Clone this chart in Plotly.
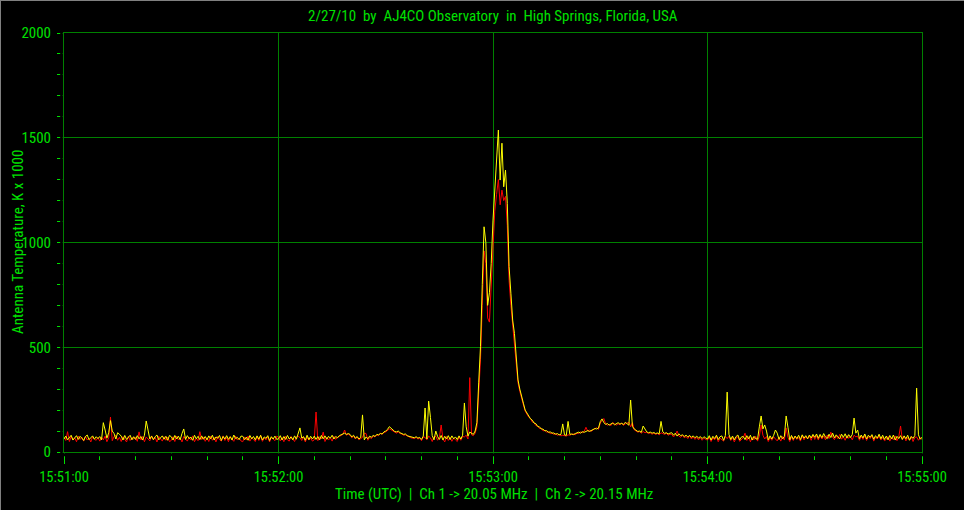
import plotly.graph_objects as go
import pandas as pd

# ---------------- data (0.5 s samples from 15:51:00 to 15:55:00) ----------------
start_time = "2010-02-27 15:51:00"
sample_step = "500ms"

# Ch 1 -> 20.05 MHz (red)
ch1 = [
    72, 55, 97, 50, 74, 58, 68, 49, 76, 60, 70, 52, 75, 57, 66, 48, 73, 61, 56, 69,
    52, 71, 58, 76, 49, 68, 167, 54, 74, 80, 56, 70, 50, 73, 60, 48, 75, 55, 69, 62,
    70, 51, 96, 57, 74, 49, 72, 62, 53, 77, 58, 69, 48, 75, 60, 52, 73, 56, 71, 50,
    55, 73, 50, 76, 58, 68, 48, 74, 62, 52, 71, 57, 77, 49, 66, 54, 97, 59, 72, 51,
    68, 50, 75, 56, 70, 48, 74, 59, 52, 77, 55, 69, 49, 73, 61, 51, 76, 57, 66, 53,
    49, 72, 57, 76, 52, 68, 60, 50, 74, 55, 78, 51, 67, 58, 73, 48, 70, 62, 54, 75,
    71, 53, 69, 49, 75, 58, 52, 74, 60, 50, 72, 76, 69, 55, 73, 48, 70, 57, 66, 52,
    58, 191, 54, 73, 62, 95, 50, 71, 57, 68, 52, 75, 60, 70, 74, 79, 84, 105, 80, 86,
    80, 68, 76, 62, 72, 58, 66, 70, 90, 88, 56, 70, 64, 76, 72, 82, 78, 90, 84, 94,
    96, 102, 110, 106, 100, 94, 90, 96, 88, 86, 80, 82, 76, 72, 68, 66, 64, 70, 62, 66,
    54, 72, 70, 58, 76, 68, 50, 73, 75, 56, 69, 129, 62, 48, 74, 55, 71, 51, 67, 58,
    50, 72, 56, 74, 72, 80, 62, 355, 82, 78, 90, 120, 290, 440, 700, 960, 900, 640, 620, 820,
    1000, 1150, 1230, 1300, 1180, 1250, 1200, 1220, 1080, 820, 700, 600, 540, 440, 330, 290, 250, 225, 195, 180,
    166, 160, 143, 140, 126, 124, 112, 113, 101, 103, 95, 96, 88, 91, 84, 87, 80, 83, 77, 80,
    78, 76, 82, 80, 84, 86, 82, 90, 88, 96, 92, 98, 118, 100, 104, 99, 106, 110, 116, 108,
    138, 150, 160, 135, 128, 132, 126, 140, 134, 128, 135, 130, 139, 127, 134, 138, 142, 120, 140, 106,
    100, 95, 97, 90, 98, 92, 94, 88, 91, 85, 90, 84, 88, 82, 92, 86, 84, 90, 80, 85,
    84, 72, 82, 100, 76, 70, 80, 68, 74, 64, 78, 62, 72, 60, 70, 58, 69, 56, 66, 60,
    57, 72, 50, 68, 58, 75, 49, 66, 60, 52, 74, 64, 75, 55, 70, 48, 67, 73, 51, 62,
    68, 90, 55, 73, 49, 70, 58, 75, 52, 75, 129, 80, 62, 74, 50, 69, 56, 72, 60, 53,
    71, 52, 74, 57, 115, 70, 50, 73, 55, 76, 60, 69, 52, 78, 58, 74, 62, 77, 56, 80,
    60, 78, 57, 80, 62, 76, 58, 81, 64, 95, 70, 59, 77, 63, 84, 61, 73, 56, 79, 65,
    74, 58, 80, 72, 76, 56, 75, 60, 79, 55, 73, 64, 78, 52, 71, 62, 77, 57, 70, 54,
    60, 74, 52, 70, 58, 77, 54, 72, 124, 60, 76, 53, 69, 57, 74, 50, 70, 72, 56, 68,
    60,
]

# Ch 2 -> 20.15 MHz (yellow)
ch2 = [
    62, 76, 58, 72, 80, 57, 70, 78, 60, 75, 66, 55, 74, 81, 59, 70, 77, 61, 73, 64,
    74, 58, 140, 105, 66, 92, 150, 100, 88, 62, 92, 85, 76, 57, 79, 60, 71, 80, 58, 73,
    60, 78, 63, 74, 57, 80, 148, 110, 62, 76, 59, 73, 81, 58, 70, 77, 61, 75, 56, 79,
    73, 57, 79, 62, 76, 58, 88, 110, 60, 78, 64, 71, 56, 80, 63, 75, 59, 77, 61, 74,
    58, 77, 63, 80, 57, 72, 66, 79, 55, 74, 62, 78, 60, 73, 57, 81, 64, 70, 59, 76,
    75, 59, 71, 56, 79, 63, 74, 58, 77, 61, 80, 57, 72, 65, 78, 55, 73, 62, 76, 60,
    63, 78, 57, 74, 60, 79, 62, 72, 58, 77, 61, 90, 115, 66, 73, 56, 80, 59, 75, 62,
    76, 60, 74, 58, 79, 63, 77, 61, 75, 66, 80, 62, 74, 68, 78, 82, 86, 90, 84, 88,
    84, 72, 80, 66, 74, 62, 70, 177, 58, 72, 63, 76, 70, 80, 74, 84, 82, 88, 86, 96,
    100, 108, 121, 112, 104, 98, 96, 100, 92, 88, 84, 86, 78, 75, 72, 70, 68, 73, 66, 70,
    60, 76, 210, 62, 243, 165, 78, 58, 100, 74, 60, 79, 57, 75, 62, 78, 59, 77, 63, 72,
    59, 77, 62, 80, 234, 120, 76, 95, 88, 84, 100, 140, 330, 503, 800, 1075, 1000, 700, 760, 900,
    1107, 1266, 1378, 1537, 1298, 1474, 1266, 1346, 1187, 885, 758, 630, 566, 460, 344, 300, 260, 233, 200, 185,
    172, 158, 152, 138, 135, 122, 120, 110, 109, 101, 102, 94, 96, 90, 91, 85, 88, 82, 84, 134,
    82, 79, 146, 84, 86, 83, 88, 92, 95, 90, 97, 94, 99, 102, 98, 104, 108, 112, 110, 114,
    145, 158, 140, 132, 136, 128, 134, 138, 130, 136, 140, 133, 137, 131, 142, 135, 128, 248, 122, 110,
    104, 98, 100, 94, 124, 110, 96, 92, 95, 90, 93, 88, 91, 87, 146, 96, 89, 92, 86, 90,
    92, 80, 90, 76, 87, 78, 82, 74, 80, 72, 79, 70, 77, 68, 76, 66, 74, 64, 73, 67,
    62, 78, 57, 75, 64, 80, 59, 73, 77, 56, 79, 286, 84, 60, 76, 58, 74, 81, 57, 72,
    74, 59, 78, 62, 80, 57, 75, 63, 61, 120, 172, 110, 129, 100, 58, 77, 62, 79, 105, 90,
    60, 78, 63, 74, 172, 118, 58, 79, 61, 76, 64, 80, 59, 82, 66, 78, 63, 81, 67, 84,
    70, 86, 65, 84, 68, 88, 71, 64, 85, 69, 90, 67, 82, 72, 63, 85, 70, 87, 66, 83,
    69, 84, 162, 90, 105, 64, 81, 67, 86, 62, 80, 70, 83, 61, 78, 66, 85, 63, 80, 60,
    76, 58, 79, 62, 81, 57, 75, 64, 78, 60, 77, 63, 80, 56, 74, 65, 79, 305, 82, 61,
    71,
]

x_tick_labels = ["15:51:00", "15:52:00", "15:53:00", "15:54:00", "15:55:00"]
x_tick_times = ["2010-02-27 " + s for s in x_tick_labels]
y_tick_values = [0, 500, 1000, 1500, 2000]
y_tick_labels = ["0", "500", "1000", "1500", "2000"]

title_text = "2/27/10\u00a0\u00a0by\u00a0\u00a0AJ4CO Observatory\u00a0\u00a0in\u00a0\u00a0High Springs, Florida, USA"
x_title_text = "Time (UTC)\u00a0\u00a0|\u00a0\u00a0Ch 1 -> 20.05 MHz\u00a0\u00a0|\u00a0\u00a0Ch 2 -> 20.15 MHz"
y_title_text = "Antenna Temperature, K x 1000"

times = pd.date_range(start_time, periods=len(ch1), freq=sample_step)

# ---------------- styling ----------------
FONT = "Roboto Condensed, DejaVu Sans Condensed, sans-serif"
TXT = "#00e000"
GRID = "#008000"

W, H = 964, 510
L, R, T, B = 64, 42, 33, 58
PW, PH = W - L - R, H - T - B


def px(xp):
    return (xp - L) / PW


def py(yp):
    return (H - B - yp) / PH


fig = go.Figure()
fig.add_trace(go.Scatter(x=times, y=ch1, mode="lines", name="Ch 1",
                         line=dict(color="#ff0000", width=1),
                         showlegend=False))
fig.add_trace(go.Scatter(x=times, y=ch2, mode="lines", name="Ch 2",
                         line=dict(color="#ffff00", width=1),
                         showlegend=False))

fig.update_layout(
    width=W, height=H,
    paper_bgcolor="#000000", plot_bgcolor="#000000",
    margin=dict(l=L, r=R, t=T, b=B, autoexpand=False),
    xaxis=dict(
        type="date",
        range=[x_tick_times[0], x_tick_times[-1]],
        tickmode="array", tickvals=x_tick_times, ticktext=x_tick_labels,
        showgrid=True, gridcolor=GRID, gridwidth=1,
        ticks="outside", ticklen=11, tickwidth=1, tickcolor=TXT,
        showline=True, linecolor=GRID, linewidth=1, mirror=True,
        zeroline=False,
        tickfont=dict(family=FONT, size=14.5, color=TXT),
        ticklabelstandoff=1,
        minor=dict(ticks="outside", ticklen=7, tickwidth=1, tickcolor=TXT,
                   dtick=10000, tick0=x_tick_times[0], showgrid=False),
    ),
    yaxis=dict(
        range=[0, 2000],
        tickmode="array", tickvals=y_tick_values, ticktext=y_tick_labels,
        showgrid=True, gridcolor=GRID, gridwidth=1,
        ticks="outside", ticklen=6, tickwidth=1, tickcolor=TXT,
        showline=True, linecolor=GRID, linewidth=1, mirror=True,
        zeroline=False,
        tickfont=dict(family=FONT, size=15, color=TXT),
        ticklabelstandoff=3,
        minor=dict(ticks="outside", ticklen=6, tickwidth=1, tickcolor=TXT,
                   dtick=100, showgrid=False),
    ),
    annotations=[
        dict(text=title_text, xref="paper", yref="paper", x=px(493), y=py(16),
             xanchor="center", yanchor="middle", showarrow=False,
             font=dict(family=FONT, size=15, color=TXT)),
        dict(text=x_title_text, xref="paper", yref="paper", x=px(494), y=py(494),
             xanchor="center", yanchor="middle", showarrow=False,
             font=dict(family=FONT, size=15, color=TXT)),
        dict(text=y_title_text, xref="paper", yref="paper", x=px(18), y=py(242),
             xanchor="center", yanchor="middle", showarrow=False, textangle=-90,
             font=dict(family=FONT, size=15, color=TXT)),
    ],
    shapes=[
        dict(type="rect", xref="paper", yref="paper", layer="above",
             x0=px(50), x1=px(935), y0=py(456.3), y1=py(453.2),
             fillcolor="#000000", line=dict(width=0)),
        dict(type="rect", xref="paper", yref="paper", layer="above",
             x0=px(60.2), x1=px(62.8), y0=py(460), y1=py(25),
             fillcolor="#000000", line=dict(width=0)),
        dict(type="line", xref="paper", yref="paper", layer="above",
             x0=px(0), x1=px(964), y0=py(0.5), y1=py(0.5),
             line=dict(color="#808080", width=1)),
        dict(type="line", xref="paper", yref="paper", layer="above",
             x0=px(0.5), x1=px(0.5), y0=py(0), y1=py(510),
             line=dict(color="#808080", width=1)),
    ],
)

fig.write_html("out.html", config={"displayModeBar": False},
               post_script="document.body.style.margin='0px';document.body.style.padding='0px';")
